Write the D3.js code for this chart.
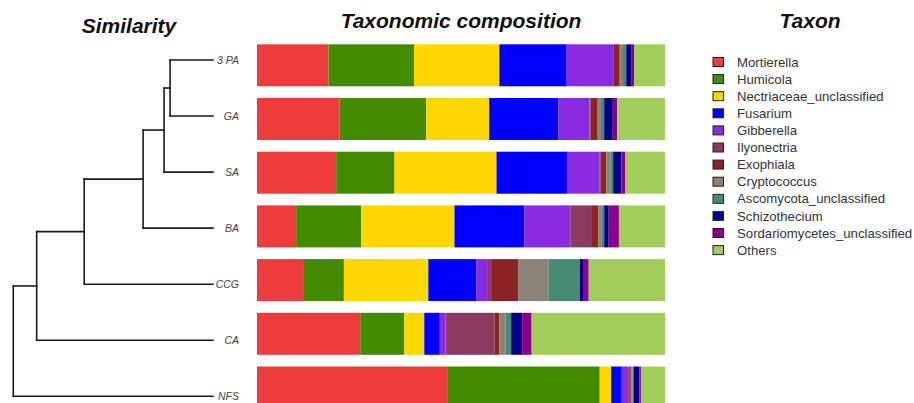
<!DOCTYPE html>
<html>
<head>
<meta charset="utf-8">
<script src="https://cdn.jsdelivr.net/npm/d3@7"></script>
<style>
  html, body { margin: 0; padding: 0; background: #fff; overflow: hidden; }
  svg { display: block; }
</style>
</head>
<body>
<svg id="chart" width="914" height="403"></svg>
<script>
// Samples, top to bottom
const samples = ["3 PA", "GA", "SA", "BA", "CCG", "CA", "NFS"];

// Taxa (stack order, left to right) and their fill colours
const taxa = ["Mortierella", "Humicola", "Nectriaceae_unclassified", "Fusarium", "Gibberella",
  "Ilyonectria", "Exophiala", "Cryptococcus", "Ascomycota_unclassified", "Schizothecium",
  "Sordariomycetes_unclassified", "Others"];
const taxonColors = ["#EE3B3B", "#458B00", "#FFD700", "#0000FF", "#8A2BE2",
  "#8B3A62", "#8B2323", "#8B8378", "#458B74", "#00008B", "#8B008B", "#A2CD5A"];

// Relative abundance (%) of each taxon, one value per sample in the order above
const mortierella   = [17.5, 20.2, 19.4,  9.6, 11.3, 25.3, 46.8];
const humicola      = [21.0, 21.3, 14.3, 15.9, 10.0, 10.8, 37.2];
const nectriaceae   = [20.9, 15.4, 25.0, 22.9, 20.7,  4.9,  2.8];
const fusarium      = [16.5, 17.0, 17.3, 17.1, 11.8,  3.8,  2.6];
const gibberella    = [11.4,  7.6,  8.0, 11.3,  2.6,  1.4,  1.6];
const ilyonectria   = [ 0.2,  0.3,  0.2,  5.1,  1.2, 12.0,  0.5];
const exophiala     = [ 1.4,  1.7,  1.4,  1.8,  6.4,  1.2,  0.3];
const cryptococcus  = [ 0.8,  0.8,  1.1,  0.8,  7.5,  1.5,  0.3];
const ascomycota    = [ 0.8,  0.8,  0.6,  0.6,  7.6,  1.4,  0.2];
const schizothecium = [ 1.2,  2.1,  2.0,  1.1,  1.0,  2.7,  1.4];
const sordario      = [ 0.7,  1.1,  1.0,  2.5,  1.2,  2.3,  0.4];
const others        = [ 7.6, 11.7,  9.7, 11.3, 18.7, 32.7,  5.9];

const seriesValues = [mortierella, humicola, nectriaceae, fusarium, gibberella, ilyonectria,
  exophiala, cryptococcus, ascomycota, schizothecium, sordario, others];

// Clustering tree: merge heights (dissimilarity) for each internal node
const dendro = {h: 1.0, children: [
  {h: 0.883, children: [
    {h: 0.645, children: [
      {h: 0.35, children: [
        {h: 0.245, children: [
          {h: 0.215, children: [{name: "3 PA"}, {name: "GA"}]},
          {name: "SA"}
        ]},
        {name: "BA"}
      ]},
      {name: "CCG"}
    ]},
    {name: "CA"}
  ]},
  {name: "NFS"}
]};

const svg = d3.select("#chart");
const fontSans = "'Liberation Sans', Arial, Helvetica, sans-serif";

// ---- Titles ----
svg.append("text").attr("x", 129).attr("y", 33)
  .attr("text-anchor", "middle").attr("font-family", fontSans)
  .attr("font-size", 21).attr("font-weight", "bold").attr("font-style", "italic")
  .attr("fill", "#111").text("Similarity");
svg.append("text").attr("x", 461).attr("y", 28)
  .attr("text-anchor", "middle").attr("font-family", fontSans)
  .attr("font-size", 21).attr("font-weight", "bold").attr("font-style", "italic")
  .attr("fill", "#111").text("Taxonomic composition");
svg.append("text").attr("x", 810).attr("y", 28)
  .attr("text-anchor", "middle").attr("font-family", fontSans)
  .attr("font-size", 21).attr("font-weight", "bold").attr("font-style", "italic")
  .attr("fill", "#111").text("Taxon");

// ---- Stacked bars ----
const rows = samples.map((s, i) => {
  const r = {sample: s};
  taxa.forEach((t, j) => { r[t] = seriesValues[j][i]; });
  return r;
});
const stacked = d3.stack().keys(taxa)(rows);

const x = d3.scaleLinear().domain([0, 100]).range([257, 665]);
const y = d3.scaleBand().domain(samples).range([32.6, 420.2]).padding(0.218);
const color = d3.scaleOrdinal().domain(taxa).range(taxonColors);

svg.append("g").selectAll("g")
  .data(stacked).join("g")
  .attr("fill", d => color(d.key))
  .selectAll("rect")
  .data(d => d).join("rect")
  .attr("x", d => x(d[0]))
  .attr("y", d => y(d.data.sample))
  .attr("width", d => Math.max(0, x(d[1]) - x(d[0])))
  .attr("height", y.bandwidth());

// ---- Dendrogram ----
const root = d3.hierarchy(dendro);
const leafY = d3.scalePoint().domain(samples).range([60, 396.3]);
const hx = d3.scaleLinear().domain([0, 1]).range([213, 13.3]);

root.eachAfter(n => {
  n.px = hx(n.data.h || 0);
  n.py = n.children ? (n.children[0].py + n.children[n.children.length - 1].py) / 2
                    : leafY(n.data.name);
});

const dg = svg.append("g").attr("fill", "none").attr("stroke", "#1a1a1a")
  .attr("stroke-width", 1.6).attr("stroke-linecap", "square");
root.descendants().filter(n => n.children).forEach(n => {
  const ys = n.children.map(c => c.py);
  dg.append("line").attr("x1", n.px).attr("x2", n.px)
    .attr("y1", d3.min(ys)).attr("y2", d3.max(ys));
  n.children.forEach(c => {
    dg.append("line").attr("x1", n.px).attr("x2", c.px)
      .attr("y1", c.py).attr("y2", c.py);
  });
});

svg.append("g").selectAll("text")
  .data(root.leaves()).join("text")
  .attr("x", 239).attr("y", d => d.py)
  .attr("dy", "0.35em").attr("text-anchor", "end")
  .attr("font-family", fontSans).attr("font-size", 10.5).attr("font-style", "italic")
  .attr("fill", "#444").text(d => d.data.name);

// ---- Legend ----
const legend = svg.append("g").attr("transform", "translate(713,62)");
const li = legend.selectAll("g").data(taxa).join("g")
  .attr("transform", (d, i) => `translate(0,${i * 17.1})`);
li.append("rect").attr("x", 0).attr("y", -4.5).attr("width", 10.5).attr("height", 9)
  .attr("fill", d => color(d)).attr("stroke", "#222").attr("stroke-width", 1);
li.append("text").attr("x", 24).attr("y", 0).attr("dy", "0.35em")
  .attr("font-family", fontSans).attr("font-size", 13.2).attr("fill", "#333")
  .text(d => d);
</script>
</body>
</html>
